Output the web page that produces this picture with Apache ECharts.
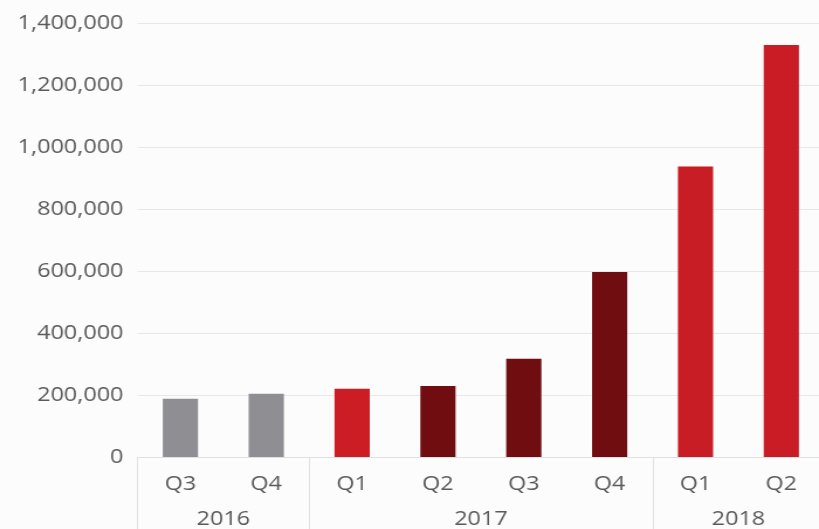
<!DOCTYPE html>
<html>
<head>
<meta charset="utf-8">
<script src="https://cdn.jsdelivr.net/npm/echarts@6/dist/echarts.min.js"></script>
<style>
  html, body { margin: 0; padding: 0; background: #fcfcfc; overflow: hidden; }
  /* the chart is laid out narrower and widened; the last bar runs to the page edge */
  #chart { width: 710px; height: 529px; transform: scaleX(1.17); transform-origin: 0 0; }
</style>
</head>
<body>
<div id="chart"></div>
<script>
// Quarterly figures, Q3 2016 – Q2 2018
const quarters = ['Q3', 'Q4', 'Q1', 'Q2', 'Q3', 'Q4', 'Q1', 'Q2'];
const values = [188000, 204000, 220000, 229000, 317000, 597000, 938000, 1330000];
const years = ['2016', '2017', '2018'];
const quartersPerYear = [2, 4, 2];
const yTicks = [0, 200000, 400000, 600000, 800000, 1000000, 1200000, 1400000];

// Bar fill per quarter
const barColors = ['#8e8e93', '#8e8e93', '#cc1c24', '#6f0d10', '#6f0d10', '#6f0d10', '#c91d25', '#c91d25'];

const textColor = '#5a5a5a';
const font = 'Open Sans';

// Boundaries between year groups (category indices) and year label centres
const boundaries = [0];
const yearCentres = [];
quartersPerYear.forEach(n => {
  const start = boundaries[boundaries.length - 1];
  yearCentres.push(start + n / 2);
  boundaries.push(start + n);
});

const chart = echarts.init(document.getElementById('chart'), null, { renderer: 'canvas' });
chart.setOption({
  backgroundColor: '#fcfcfc',
  animation: false,
  grid: { left: 117.5, width: 587, top: 23.3, bottom: 69.6, containLabel: false },
  xAxis: [
    {
      type: 'category',
      data: quarters,
      boundaryGap: true,
      axisLine: { show: true, lineStyle: { color: '#e0e0e0', width: 1 } },
      axisTick: {
        show: true,
        length: 72,
        interval: (i) => boundaries.slice(0, -1).includes(i),
        lineStyle: { color: '#e3e3e3', width: 1 }
      },
      axisLabel: { color: textColor, fontFamily: font, fontSize: 20, margin: 17 }
    },
    {
      type: 'value',
      position: 'bottom',
      offset: 40,
      min: 0,
      max: quarters.length,
      interval: 1,
      axisLine: { show: false },
      axisTick: { show: false },
      splitLine: { show: false },
      axisLabel: {
        color: textColor, fontFamily: font, fontSize: 20, margin: 12,
        showMinLabel: true, showMaxLabel: true,
        formatter: (v) => {
          const k = yearCentres.indexOf(v);
          return k >= 0 ? years[k] : '';
        }
      }
    }
  ],
  yAxis: {
    type: 'value',
    min: yTicks[0],
    max: yTicks[yTicks.length - 1],
    interval: yTicks[1] - yTicks[0],
    axisLine: { show: false },
    axisTick: { show: false },
    splitLine: { show: true, lineStyle: { color: '#e8e8e8', width: 1 } },
    axisLabel: {
      color: textColor, fontFamily: font, fontSize: 20, margin: 12,
      formatter: (v) => v.toLocaleString('en-US')
    }
  },
  series: [{
    type: 'bar',
    xAxisIndex: 0,
    barWidth: '41%',
    data: values.map((v, i) => ({ value: v, itemStyle: { color: barColors[i] } }))
  }]
});
</script>
</body>
</html>
